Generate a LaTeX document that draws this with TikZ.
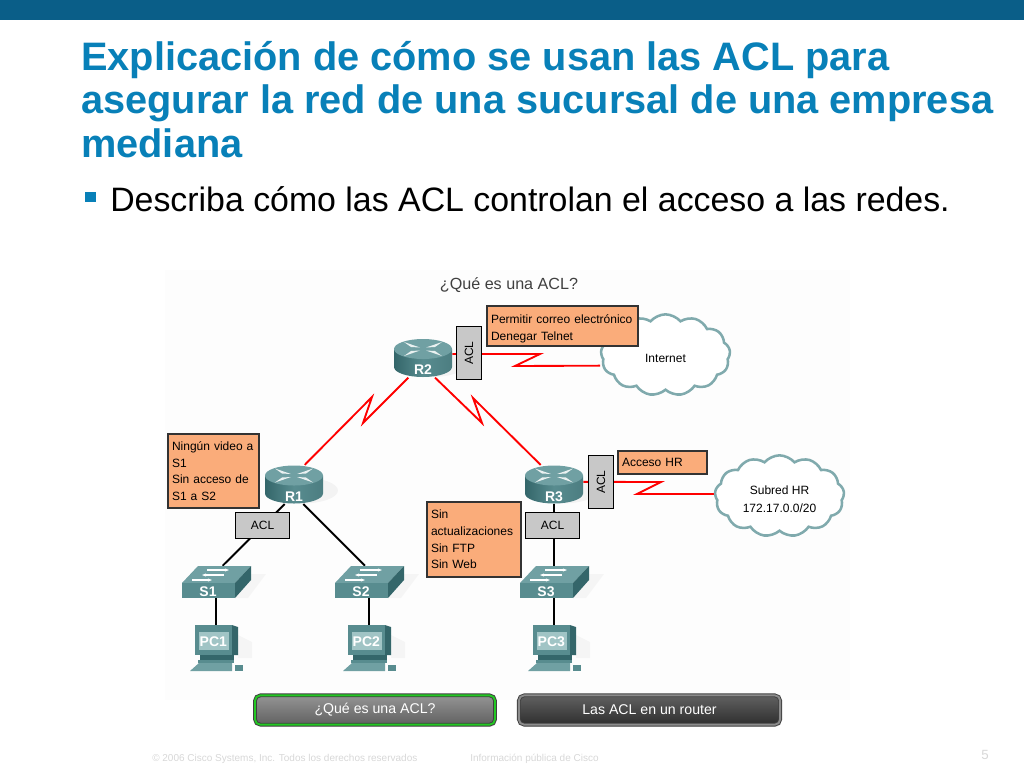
\documentclass[tikz,border=0pt]{standalone}
\usepackage{fontspec}
\setmainfont{Liberation Sans}
\usetikzlibrary{positioning, calc, backgrounds, arrows.meta, shadows, shapes.symbols}

\tikzset{
    devlabel/.style={text=white, font=\fontsize{10.5}{12}\selectfont\bfseries, inner sep=0pt},
    routerbox/.style={minimum width=43.5pt, minimum height=29pt, inner sep=0pt},
    switchbox/.style={minimum width=52pt, minimum height=24pt, inner sep=0pt},
    pcbox/.style={minimum width=32pt, minimum height=37.5pt, inner sep=0pt},
    aclbox/.style={draw=black, thick, fill=aclgray, minimum width=40pt, minimum height=19pt, inner sep=0pt, font=\fontsize{9}{11}\selectfont},
    notebox/.style={draw=black!80, thick, fill=noteorange, inner xsep=3pt, inner ysep=0pt, align=left, font=\fontsize{9}{12.5}\selectfont},
    cloudbox/.style={cloud, cloud puffs=13, cloud puff arc=100, aspect=1.55, draw=cloudteal, line width=1.9pt, fill=white, align=center, inner sep=0pt, minimum width=97pt, minimum height=61pt, font=\fontsize{9}{13.5}\selectfont},
    seriallink/.style={draw=red, line width=1.4pt, miter limit=8},
    lanlink/.style={draw=black, line width=1.4pt},
    tabbutton/.style={rounded corners=4pt, double distance=1.4pt, line width=.7pt, text=white, minimum height=22pt, inner sep=0pt, font=\fontsize{10.6}{12}\selectfont, drop shadow={opacity=.3, shadow xshift=1pt, shadow yshift=-1.5pt}},
    footnote/.style={text=footgray, inner sep=0pt, anchor=west, font=\fontsize{7.5}{9}\selectfont},
    routerpic/.pic={
        \fill[black, opacity=.04] (8,6) ellipse[x radius=36, y radius=13];
        \path[left color=devdark, right color=devdark!60!devlight, middle color=devmid]
            (-29,-9) -- (-29,9) arc[start angle=180, end angle=0, x radius=29, y radius=10] -- (29,-9) -- cycle;
        \fill[devlight] (0,-9) ellipse[x radius=29, y radius=10];
        \foreach \sx/\sy in {-1/-1, 1/-1, -1/1, 1/1} {
            \fill[white!85!devlight] (\sx*3,-9+\sy*1.5) -- (\sx*19,-9+\sy*7) -- (\sx*12,-9+\sy*2) -- cycle;
        }
    },
    switchpic/.pic={
        \fill[black, opacity=.03] (19,16) -- (35,-8) -- (50,-8) -- (32,16) -- cycle;
        \fill[devlight] (-34,1) -- (-18,-16) -- (35,-16) -- (19,1) -- cycle;
        \fill[devmid] (-34,1) rectangle (19,16);
        \fill[devdark] (19,1) -- (35,-16) -- (35,-2) -- (19,16) -- cycle;
        \draw[white, line width=.8pt, -{Stealth[length=3pt]}] (-9,-12) -- (13,-12);
        \draw[white, line width=.8pt, -{Stealth[length=3pt]}] (8,-7) -- (-14,-7);
        \draw[white, line width=.8pt, -{Stealth[length=3pt]}] (-24,-2) -- (-4,-2);
    },
    pcpic/.pic={
        \fill[black, opacity=.03] (22,-15) -- (36,-8) -- (36,8) -- (22,8) -- cycle;
        \fill[devdark] (16,-25) -- (22,-23) -- (22,5) -- (16,5) -- cycle;
        \fill[devmid] (-21,-25) rectangle (16,5);
        \fill[screenlight] (-17,-18) rectangle (13,0);
        \fill[devdark] (-16,5) rectangle (18,10);
        \fill[devmid] (-18,10) rectangle (18,13);
        \fill[devlight] (-17,13) -- (16,13) -- (16,21) -- (-26,21) -- cycle;
        \fill[devmid] (19,15) rectangle (27,21);
    }
}

\begin{document}
\begin{tikzpicture}[x=0.75pt, y=-0.75pt]
    % Colores
    \definecolor{bandblue}{RGB}{10, 94, 136}
    \definecolor{titleblue}{RGB}{8, 128, 184}
    \definecolor{aclgray}{RGB}{200, 200, 200}
    \definecolor{noteorange}{RGB}{250, 172, 122}
    \definecolor{cloudteal}{RGB}{128, 170, 173}
    \definecolor{devdark}{RGB}{52, 102, 106}
    \definecolor{devmid}{RGB}{88, 140, 143}
    \definecolor{devlight}{RGB}{112, 160, 163}
    \definecolor{screenlight}{RGB}{160, 196, 197}
    \definecolor{footgray}{RGB}{215, 215, 215}

    \useasboundingbox (0,0) rectangle (1024,768);

    % 1. Banda, titulo y vineta
    \fill[bandblue] (0,0) rectangle (1024,20);
    \node[anchor=north west, inner sep=0pt, align=left, text=titleblue, font=\fontsize{29.8}{32.6}\selectfont\bfseries] (title) at (81,41)
        {Explicación de cómo se usan las ACL para\\asegurar la red de una sucursal de una empresa\\mediana};
    \node[fill=titleblue, minimum size=8pt, inner sep=0pt] (bullet) at (90.5,197) {};
    \node[anchor=west, inner sep=0pt, font=\fontsize{25.4}{28}\selectfont] (subtitle) at (110,199) {Describa cómo las ACL controlan el acceso a las redes.};
    \node[text=black!75, inner sep=0pt, font=\fontsize{12.1}{14}\selectfont] (question) at (509,285) {¿Qué es una ACL?};

    % 2. Nubes y notas
    \node[cloudbox] (internet) at (665.5,355) {\rule{0pt}{11pt}Internet};
    \node[cloudbox] (subred) at (779.5,496) {\rule{0pt}{12pt}Subred HR\\172.17.0.0/20};

    \node[notebox, text width=107.25pt, minimum height=30pt] (noteR2) at (562.5,326) {\rule{0pt}{11pt}Permitir correo electrónico\\Denegar Telnet};
    \node[notebox, text width=62.25pt, minimum height=55.5pt] (noteR1) at (213.5,471) {Ningún video a\\S1\\Sin acceso de\\S1 a S2};
    \node[notebox, text width=60.75pt, minimum height=17.25pt] (noteHR) at (662.5,462.5) {Acceso HR};
    \node[notebox, text width=64.5pt, minimum height=56.25pt] (noteR3) at (474,539.5) {Sin\\actualizaciones\\Sin FTP\\Sin Web};

    % 3. Equipos: routers, switches y PC
    \foreach \name/\x/\y in {R1/294/484.5, R2/423/358, R3/554/484.5} {
        \pic at (\x,\y) {routerpic};
        \node[routerbox, label={[devlabel, yshift=-9pt]center:\name}] (\name) at (\x,\y) {};
    }
    \foreach \name/\x in {S1/216, S2/369, S3/554} {
        \pic at (\x,582) {switchpic};
        \node[switchbox, label={[devlabel, xshift=-6pt, yshift=-7.5pt]center:\name}] (\name) at (\x,582) {};
    }
    \foreach \name/\x in {PC1/216, PC2/369, PC3/554} {
        \pic at (\x,650) {pcpic};
        \node[pcbox, label={[devlabel, xshift=-2pt, yshift=6.5pt]center:\name}] (\name) at (\x,650) {};
    }

    % 4. Cajas ACL
    \node[aclbox, rotate=90] (aclR2) at (469,353) {ACL};
    \node[aclbox, rotate=90] (aclHR) at (601,482) {ACL};
    \node[aclbox] (aclR1) at (262.5,525.5) {ACL};
    \node[aclbox] (aclR3) at (552.5,525.5) {ACL};

    % 5. Enlaces (detras de los equipos)
    \begin{scope}[on background layer]
        \fill[black!0.7] (165,270) rectangle (850,700);
        \draw[seriallink] ([yshift=3pt]R2.east) -- (540,354) -- (515,366) -- ([yshift=-8pt]internet.west);
        \draw[seriallink] ([xshift=-11pt]R2.south) -- (363,423) -- (372,397) -- ([xshift=8pt]R1.north);
        \draw[seriallink] ([xshift=9pt]R2.south) -- (482,423) -- (473,398) -- ([xshift=-10pt]R3.north);
        \draw[seriallink] ([yshift=2pt]R3.east) -- (661,482) -- (637,494) -- ([yshift=1.5pt]subred.west);

        \draw[lanlink] ([xshift=-7pt]R1.south) -- ([xshift=5pt]S1.north);
        \draw[lanlink] ([xshift=7pt]R1.south) -- ([xshift=-3pt]S2.north);
        \draw[lanlink] (R3.south) -- (S3.north);
        \foreach \i in {1, 2, 3} {
            \draw[lanlink] (S\i.south) -- (PC\i.north);
        }
    \end{scope}

    % 6. Botones
    \node[tabbutton, draw=black!75, double={rgb,255:red,34;green,200;blue,34}, top color=black!42, bottom color=black!62, minimum width=180pt] (btnacl) at (375,710) {¿Qué es una ACL?};
    \node[tabbutton, draw=black!75, double=black!45, top color=black!62, bottom color=black!82, minimum width=196pt] (btnrouter) at (649.5,710) {Las ACL en un router};

    % 7. Pie de pagina
    \node[footnote] (copyright) at (152,759) {© 2006 Cisco Systems, Inc. Todos los derechos reservados};
    \node[footnote] (public) at (470,759) {Información pública de Cisco};
    \node[text=footgray, inner sep=0pt, font=\fontsize{10}{12}\selectfont] (page) at (985,755) {5};
\end{tikzpicture}
\end{document}
